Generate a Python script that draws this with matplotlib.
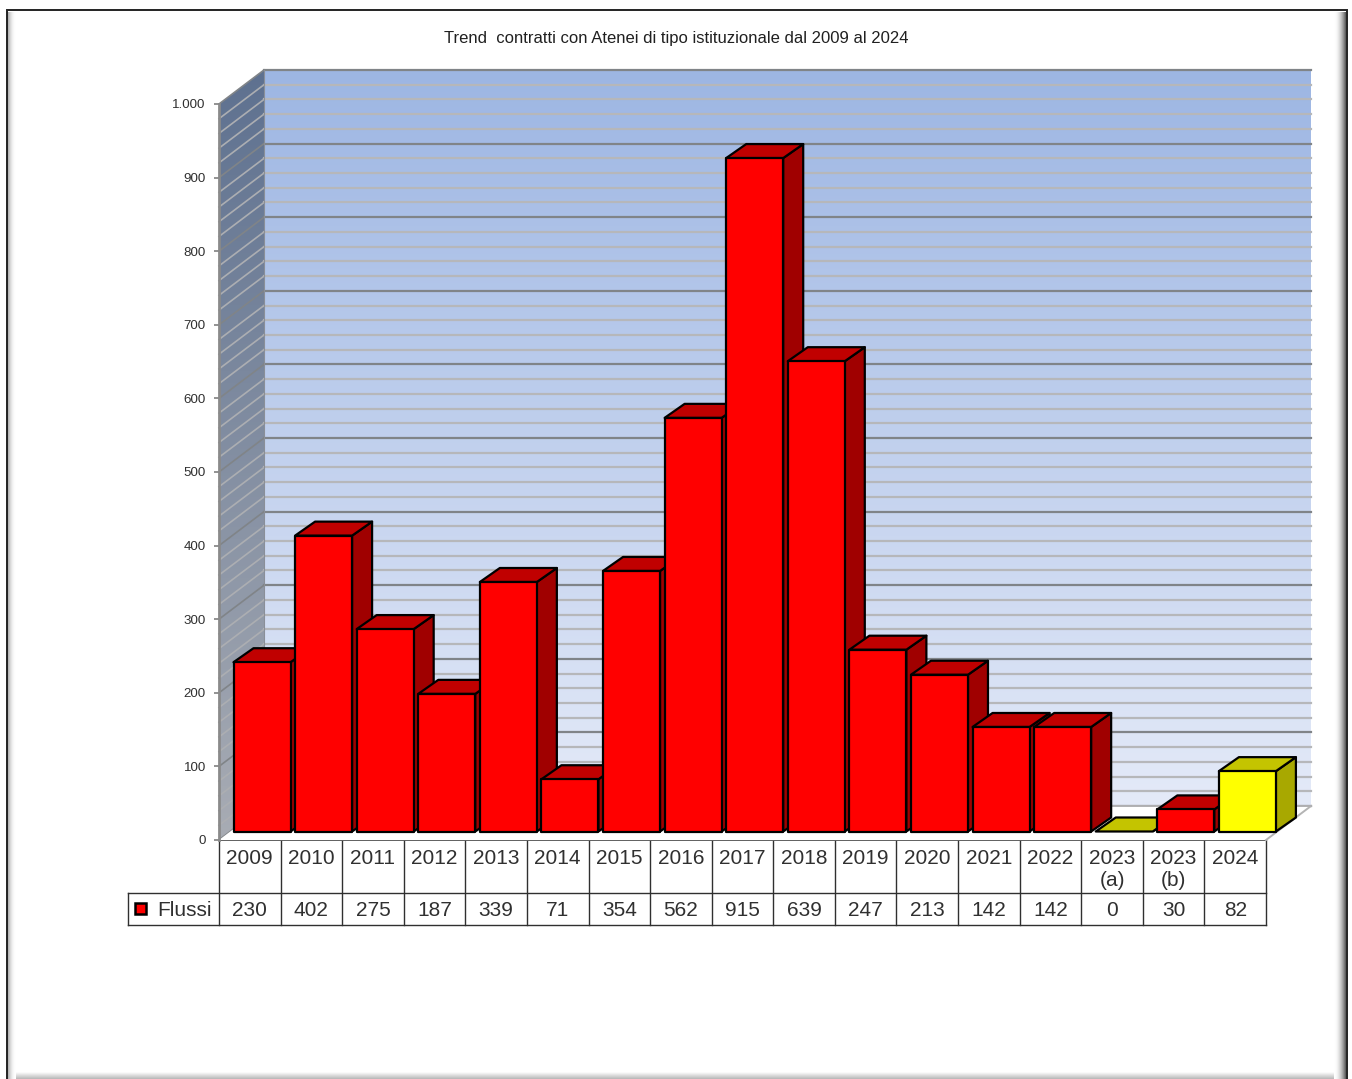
import matplotlib
matplotlib.use('Agg')
import matplotlib.pyplot as plt
from matplotlib.patches import Polygon, Rectangle
from matplotlib.ticker import FuncFormatter
import numpy as np

plt.rcParams['font.family'] = ['Liberation Sans', 'DejaVu Sans']

# Data
year_labels = ['2009', '2010', '2011', '2012', '2013', '2014', '2015', '2016', '2017',
               '2018', '2019', '2020', '2021', '2022', '2023\n(a)', '2023\n(b)', '2024']
flussi = [230, 402, 275, 187, 339, 71, 354, 562, 915, 639, 247, 213, 142, 142, 0, 30, 82]
yellow_years = ['2023\n(a)', '2024']
series_name = 'Flussi'
title = 'Trend  contratti con Atenei di tipo istituzionale dal 2009 al 2024'

W, H = 1352, 1079

# Pixel layout of the front plane of the 3D box
LEFT, RIGHT, ZERO, TOP = 219, 1266, 840, 104
TABLE_MID, TABLE_BOTTOM, LEGEND_LEFT = 893, 925, 128
px_x = (RIGHT - LEFT) / len(flussi)
px_y = (ZERO - TOP) / 1000

def dx(p):
    return p / px_x

def dy(p):
    return p / px_y

fig = plt.figure(figsize=(W / 100, H / 100), dpi=100, facecolor='white')

# Page layer in pixel coordinates: frame, title and data table
page = fig.add_axes([0, 0, 1, 1], zorder=0)
page.set_xlim(0, W)
page.set_ylim(H, 0)
page.axis('off')

grad = np.linspace(0, 1, 64)
page.imshow(grad[:, None], extent=(7, 1346, H, 1072), cmap='gray_r', vmin=0, vmax=3.5, aspect='auto')
page.imshow(grad[None, :] ** 2, extent=(1334, 1346, H, 12), cmap='gray_r', vmin=0, vmax=1.5, aspect='auto')
page.imshow(grad[::-1][None, :] ** 2, extent=(7, 16, H, 12), cmap='gray_r', vmin=0, vmax=2.5, aspect='auto')
page.plot([6.5, 6.5, 1346.5, 1346.5], [H, 9.5, 9.5, H], color='#222222', lw=1.4, solid_joinstyle='miter')
page.set_xlim(0, W)
page.set_ylim(H, 0)

page.text(676, 39, title, ha='center', va='center', fontsize=12, color='#202020')

grid_col = '#303030'
for i in range(len(flussi) + 1):
    xp = LEFT + i * px_x
    page.plot([xp, xp], [ZERO, TABLE_BOTTOM], color=grid_col, lw=1)
page.plot([LEFT, RIGHT], [ZERO, ZERO], color='#606060', lw=1.4)
page.plot([LEGEND_LEFT, RIGHT], [TABLE_MID, TABLE_MID], color=grid_col, lw=1)
page.plot([LEGEND_LEFT, RIGHT], [TABLE_BOTTOM, TABLE_BOTTOM], color=grid_col, lw=1)
page.plot([LEGEND_LEFT, LEGEND_LEFT], [TABLE_MID, TABLE_BOTTOM], color=grid_col, lw=1)

for i, (lab, val) in enumerate(zip(year_labels, flussi)):
    xc = LEFT + (i + 0.5) * px_x
    page.text(xc, 848.5, lab, ha='center', va='top', fontsize=15, color='#303030', linespacing=1.2)
    page.text(xc, 910, str(val), ha='center', va='center', fontsize=15, color='#303030')

page.add_patch(Rectangle((135, 903), 11, 11, fc='#FF0000', ec='black', lw=1.8))
page.text(157, 910, series_name, ha='left', va='center', fontsize=15, color='#303030')

# Chart layer: x in category slots, y in contract counts
ax = fig.add_axes([LEFT / W, 1 - ZERO / H, (RIGHT - LEFT) / W, (ZERO - TOP) / H], zorder=1)
ax.patch.set_visible(False)
for s in ax.spines.values():
    s.set_visible(False)
ax.spines['left'].set_visible(True)
ax.spines['left'].set_color('#8A8A8A')
ax.spines['left'].set_linewidth(2)

wall_dx, wall_dy = dx(45), dy(34)
n = len(flussi)

t = np.linspace(0, 1, 256)[:, None]

def vertical_gradient(top_col, bottom_col):
    c0, c1 = matplotlib.colors.to_rgb(top_col), matplotlib.colors.to_rgb(bottom_col)
    return (np.array(c0) * (1 - t) + np.array(c1) * t)[:, None, :]

# Back wall with vertical gradient
im = ax.imshow(vertical_gradient('#9DB6E3', '#E4EAF8'),
               extent=(wall_dx, n + wall_dx, wall_dy, 1000 + wall_dy), aspect='auto', zorder=1)
im.set_clip_on(False)

# Left wall, darker and sheared
wall_poly = Polygon([(0, 0), (0, 1000), (wall_dx, 1000 + wall_dy), (wall_dx, wall_dy)],
                    closed=True, fc='none', ec='none', clip_on=False)
ax.add_patch(wall_poly)
im2 = ax.imshow(vertical_gradient('#5E7190', '#A8ACB4'),
                extent=(0, wall_dx, 0, 1000 + wall_dy), aspect='auto', zorder=1)
im2.set_clip_box(fig.bbox)
im2.set_clip_path(wall_poly)

# Gridlines, minor every 20, major every 100
for v in range(0, 1001, 20):
    major = v % 100 == 0
    back_col = '#808488' if major else '#B6B7BA'
    side_col = '#808488' if major else '#ACAEB2'
    ax.plot([wall_dx, n + wall_dx], [v + wall_dy, v + wall_dy], color=back_col, lw=1.6, clip_on=False, zorder=2)
    ax.plot([0, wall_dx], [v, v + wall_dy], color=side_col, lw=1.2, clip_on=False, zorder=2)
ax.plot([wall_dx, wall_dx], [wall_dy, 1000 + wall_dy], color='#8A8F98', lw=0.8, clip_on=False, zorder=2)

# Floor
ax.add_patch(Polygon([(0, 0), (n, 0), (n + wall_dx, wall_dy), (wall_dx, wall_dy)], closed=True,
                     fc='white', ec='none', clip_on=False, zorder=2.5))
ax.plot([n, n + wall_dx], [0, wall_dy], color='#B4B4B4', lw=1.4, clip_on=False, zorder=2.6)
ax.plot([wall_dx, n + wall_dx], [wall_dy, wall_dy], color='#B0B0B2', lw=1.4, clip_on=False, zorder=2.6)

# 3D bars, drawn left to right so each front face covers the previous side
off_x, off_y = dx(14.5), dy(8.5)
bar_w = dx(57)
depth_x, depth_y = dx(20), dy(14)
for i, (lab, val) in enumerate(zip(year_labels, flussi)):
    if lab in yellow_years:
        front, top, side = '#FFFF00', '#C4C400', '#A8A800'
    else:
        front, top, side = '#FF0000', '#C00000', '#A00000'
    x0 = i + off_x
    x1 = x0 + bar_w
    y0 = off_y
    y1 = off_y + val
    style = dict(ec='black', lw=1.6, joinstyle='round', clip_on=False, zorder=3 + i * 0.01)
    ax.add_patch(Polygon([(x1, y0), (x1 + depth_x, y0 + depth_y), (x1 + depth_x, y1 + depth_y), (x1, y1)],
                         closed=True, fc=side, **style))
    ax.add_patch(Polygon([(x0, y1), (x0 + depth_x, y1 + depth_y), (x1 + depth_x, y1 + depth_y), (x1, y1)],
                         closed=True, fc=top, **style))
    if val > 0:
        ax.add_patch(Rectangle((x0, y0), bar_w, val, fc=front, **style))

ax.set_xlim(0, n)
ax.set_ylim(0, 1000)
ax.set_xticks([])
ax.set_yticks(range(0, 1001, 100))
ax.yaxis.set_major_formatter(FuncFormatter(lambda v, _: f'{int(v):,}'.replace(',', '.')))
ax.tick_params(axis='y', length=3.5, width=1.2, color='#808080', labelsize=9.6, labelcolor='#303030', pad=6)
for lbl in ax.get_yticklabels():
    lbl.set_y(lbl.get_position()[1])

fig.savefig('out.png', dpi=100)
